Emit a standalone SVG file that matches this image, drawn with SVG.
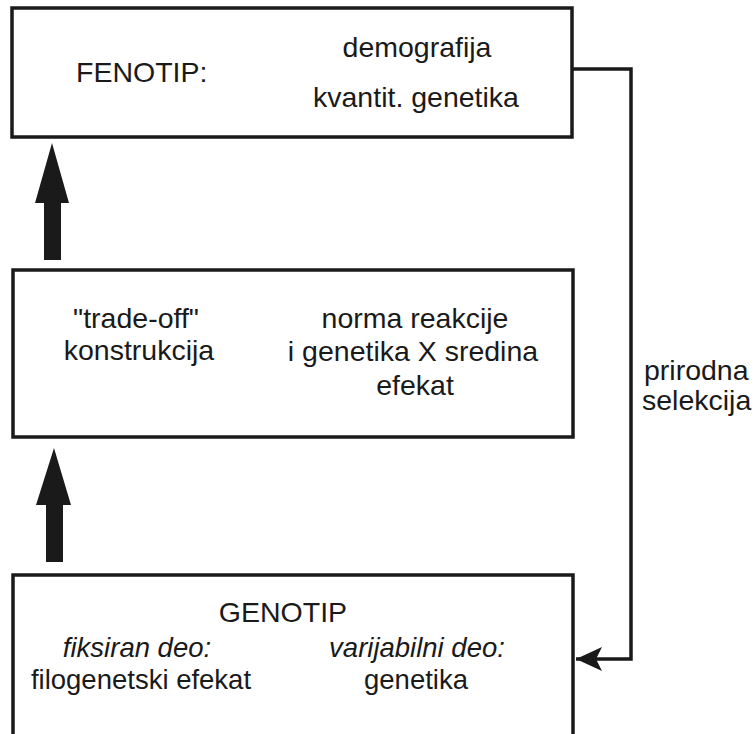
<svg xmlns="http://www.w3.org/2000/svg" width="755" height="734" viewBox="0 0 755 734">
<style>
.box{fill:#fff;stroke:#1a1a1a;stroke-width:3.5}
.t{font-family:"Liberation Sans",Arial,sans-serif;font-size:28.5px;fill:#1a1a1a}
.s{font-size:27.5px}
.m{text-anchor:middle}
.i{font-style:italic}
.conn{fill:none;stroke:#1a1a1a;stroke-width:3.5}
.big{fill:#1a1a1a}
</style>
<defs>
<marker id="ah" markerUnits="userSpaceOnUse" markerWidth="30" markerHeight="26" refX="26" refY="13" orient="auto" viewBox="0 0 30 26">
<path d="M0,1 L26,13 L0,25 L6,13 Z" fill="#1a1a1a"/>
</marker>
</defs>
<rect width="755" height="734" fill="#fff"/>
<g id="fenotip">
<rect class="box" x="12" y="8" width="560" height="129"/>
<text class="t" x="76" y="82">FENOTIP:</text>
<text class="t m" x="417" y="57">demografija</text>
<text class="t m" x="416" y="107">kvantit. genetika</text>
</g>
<g id="sredina">
<rect class="box" x="13" y="270" width="560" height="167"/>
<text class="t m" x="136" y="328">"trade-off"</text>
<text class="t m" x="139" y="360">konstrukcija</text>
<text class="t m" x="415" y="328">norma reakcije</text>
<text class="t m" x="413" y="361">i genetika X sredina</text>
<text class="t m" x="415" y="395">efekat</text>
</g>
<g id="genotip">
<rect class="box" x="13" y="575" width="560" height="170"/>
<text class="t m" x="283" y="622">GENOTIP</text>
<text class="t s m i" x="137" y="657">fiksiran deo:</text>
<text class="t s m" x="141" y="689">filogenetski efekat</text>
<text class="t s m i" x="417" y="657">varijabilni deo:</text>
<text class="t s m" x="416" y="689">genetika</text>
</g>
<g id="connectors">
<path class="conn" d="M572,69 H631 V659 H576" marker-end="url(#ah)"/>
<polygon id="arrow1" class="big" points="52,143 69,203 61,203 61,260 44,260 44,203 35,203"/>
<polygon id="arrow2" class="big" points="54,448 71,505 63,505 63,562 46,562 46,505 36,505"/>
<text class="t" x="644" y="380">prirodna</text>
<text class="t" x="642" y="410">selekcija</text>
</g>
</svg>
